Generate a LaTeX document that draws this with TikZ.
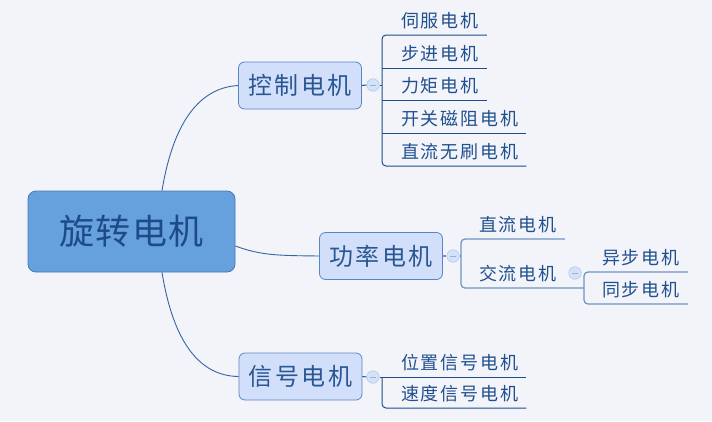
\documentclass[tikz,border=0pt]{standalone}
\usepackage{fontspec}
\newfontfamily\cjkroot[LetterSpace=4]{Noto Sans CJK SC}
\newfontfamily\cjkmid[LetterSpace=10]{Noto Sans CJK SC}
\newfontfamily\cjkleaf[LetterSpace=10]{Noto Sans CJK SC}
\usetikzlibrary{calc}
\definecolor{bg}{HTML}{F2F4F9}
\definecolor{rootfill}{HTML}{66A1DD}
\definecolor{rootdraw}{HTML}{4677B5}
\definecolor{rootText}{HTML}{1C4B88}
\definecolor{midfill}{HTML}{D1DFFA}
\definecolor{middraw}{HTML}{5A86C0}
\definecolor{midText}{HTML}{2A5792}
\definecolor{leafText}{HTML}{20508F}
\definecolor{curveC}{HTML}{3566A3}
\definecolor{treeDark}{HTML}{1E4E8E}
\definecolor{treeLight}{HTML}{6E93C3}
\definecolor{tgfill}{HTML}{D3E2F8}
\definecolor{tgdraw}{HTML}{AFC8EA}
\definecolor{tgline}{HTML}{98B3D8}
\tikzset{
  rootbox/.style={draw=rootdraw, fill=rootfill, rounded corners=8pt, line width=0.8pt,
    minimum width=207pt, minimum height=81pt, inner sep=0pt, text=rootText,
    font=\cjkroot\fontsize{35}{35}\selectfont},
  midbox/.style={draw=middraw, fill=midfill, rounded corners=6pt, line width=0.8pt,
    minimum width=123pt, minimum height=47pt, inner sep=0pt, text=midText,
    font=\cjkmid\fontsize{24}{24}\selectfont},
  leaf/.style={anchor=south west, inner xsep=8pt, inner ysep=0pt, minimum height=28pt,
    text=leafText, font=\cjkleaf\fontsize{18}{18}\selectfont},
  toggle/.style={circle, draw=tgdraw, fill=tgfill, minimum size=12.5pt, inner sep=0pt,
    line width=0.6pt,
    path picture={\draw[tgline, line width=0.9pt]
      ([xshift=-3pt]path picture bounding box.center) --
      ([xshift=3pt]path picture bounding box.center);}},
  curve/.style={draw=curveC, line width=0.9pt},
  treed/.style={draw=treeDark, line width=1pt, rounded corners=4pt},
  treel/.style={draw=treeLight, line width=1.2pt, rounded corners=4pt},
}
\begin{document}
\begin{tikzpicture}[x=1pt,y=-1pt]
\fill[bg] (0,0) rectangle (712,421);
\useasboundingbox (0,0) rectangle (712,421);

% main nodes
\node[rootbox] (root) at (131.5,231.5) {旋转电机};
\node[midbox] (ctrl) at (300,85.5) {控制电机};
\node[midbox] (pow) at (381,256) {功率电机};
\node[midbox] (sig) at (300.5,376.5) {信号电机};

% curves from root
\draw[curve] ([xshift=30.5pt]root.north) .. controls (172,130) and (195,88) .. (ctrl.west);
\draw[curve] ([yshift=-14.5pt]root.east) .. controls (262,256) and (282,255.5) .. (pow.west);
\draw[curve] ([xshift=30.5pt]root.south) .. controls (172,334) and (195,376) .. (sig.west);

% control group
\node[toggle] (ctrlc) at (373,85) {};
\coordinate (cbr) at (382,85);
\node[leaf] (c1) at (393,35) {伺服电机};
\node[leaf] (c2) at (393,68) {步进电机};
\node[leaf] (c3) at (393,100) {力矩电机};
\node[leaf] (c4) at (393,133) {开关磁阻电机};
\node[leaf] (c5) at (393,166) {直流无刷电机};
\draw[treed] (ctrl.east) -- (ctrlc.west);
\draw[treed] (ctrlc.east) -- (cbr);
\draw[treed] (c1.south east) -- (c1.south east -| cbr) -- (c5.south east -| cbr) -- (c5.south east);
\draw[treed] (c2.south east -| cbr) -- (c2.south east);
\draw[treed] (c3.south east -| cbr) -- (c3.south east);
\draw[treed] (c4.south east -| cbr) -- (c4.south east);

% power group
\node[toggle] (powc) at (453,256) {};
\coordinate (pbr) at (461,256);
\node[leaf] (p1) at (471,239) {直流电机};
\node[leaf] (p2) at (471,288) {交流电机};
\coordinate (acbr) at (584,288);
\node[toggle] (acc) at (575,273) {};
\node[leaf] (a1) at (594,272) {异步电机};
\node[leaf] (a2) at (594,304) {同步电机};
\draw[treel] (pow.east) -- (powc.west);
\draw[treel] (powc.east) -- (pbr);
\draw[treel] (p1.south east) -- (p1.south east -| pbr) -- (p2.south west -| pbr) -- (acbr);
\draw[treel] (a1.south east) -- (a1.south east -| acbr) -- (a2.south east -| acbr) -- (a2.south east);

% signal group
\node[toggle] (sigc) at (373,377) {};
\coordinate (sbr) at (382,377);
\node[leaf] (s1) at (393,377) {位置信号电机};
\node[leaf] (s2) at (393,408) {速度信号电机};
\draw[treed] (sig.east) -- (sigc.west);
\draw[treed] (sigc.east) -- (s1.south east);
\draw[treed] (sbr) -- (s2.south east -| sbr) -- (s2.south east);
\end{tikzpicture}
\end{document}
